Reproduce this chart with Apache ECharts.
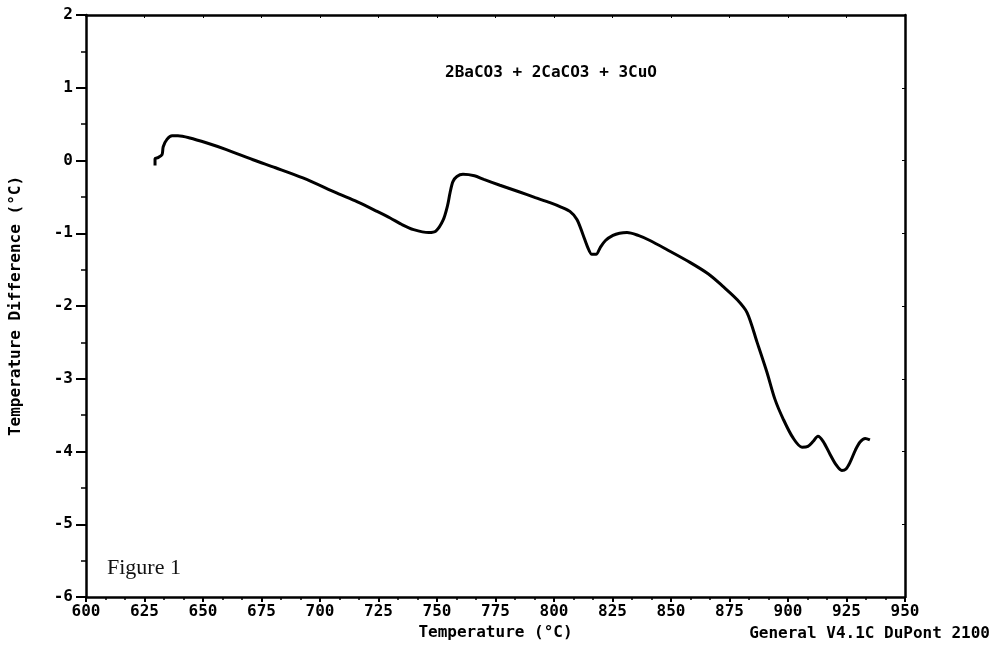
<!DOCTYPE html>
<html><head><meta charset="utf-8">
<script src="https://cdn.jsdelivr.net/npm/echarts@6/dist/echarts.min.js"></script>
<style>html,body{margin:0;padding:0;background:#fff}#c{width:994px;height:646px}</style>
</head><body><div id="c"></div>
<script>
const xTicks = [600, 625, 650, 675, 700, 725, 750, 775, 800, 825, 850, 875, 900, 925, 950];
const yTicks = [-6, -5, -4, -3, -2, -1, 0, 1, 2];
const temperature = [629.5, 629.5, 630.8, 632.5, 633, 634.6, 636.8, 639.3, 644.4, 651.7, 660, 671.4, 681, 692.7, 707.3, 716, 724.4, 730, 735, 740, 746.5, 749.5, 752.6, 754.5, 755.6, 756.8, 758.5, 761.1, 766, 770, 776.9, 785, 792, 798.3, 803, 806.8, 809.8, 812.4, 814.5, 816.2, 818, 819.7, 822, 825.2, 828, 831.2, 836, 841, 848, 858.1, 866, 872.2, 878.2, 882.5, 886.8, 891, 894.4, 897.9, 902.1, 906, 908.5, 910.8, 912.8, 915, 918, 920.5, 923, 924.8, 926.5, 928.8, 930.8, 933, 935];
const tempDiff = [-0.07, 0.025, 0.04, 0.08, 0.19, 0.29, 0.34, 0.34, 0.31, 0.24, 0.15, 0.01, -0.1, -0.24, -0.45, -0.57, -0.70, -0.79, -0.88, -0.95, -0.99, -0.97, -0.82, -0.62, -0.44, -0.29, -0.22, -0.19, -0.21, -0.26, -0.34, -0.43, -0.51, -0.58, -0.64, -0.70, -0.81, -1.02, -1.2, -1.29, -1.29, -1.2, -1.1, -1.03, -1.0, -0.99, -1.03, -1.1, -1.22, -1.40, -1.56, -1.73, -1.91, -2.09, -2.50, -2.91, -3.28, -3.55, -3.81, -3.94, -3.93, -3.86, -3.79, -3.86, -4.04, -4.18, -4.26, -4.24, -4.15, -3.98, -3.87, -3.82, -3.84];
const titleText = '2BaCO3 + 2CaCO3 + 3CuO';
const xName = 'Temperature (\u00b0C)';
const yName = 'Temperature Difference (\u00b0C)';
const footer = 'General V4.1C DuPont 2100';
const figLabel = 'Figure 1';

const chart = echarts.init(document.getElementById('c'));
const data = temperature.map((t, i) => [t, tempDiff[i]]);
const mono = 'DejaVu Sans Mono';
const fs = 16;
const axisStyle = {color: '#000', width: 2.5};
chart.setOption({
  backgroundColor: '#fff',
  animation: false,
  grid: {left: 86, top: 15, right: 89, bottom: 48},
  title: {
    text: titleText, left: 440, top: 60,
    textStyle: {fontFamily: mono, fontWeight: 'bold', fontSize: fs, color: '#000'}
  },
  graphic: [
    {type: 'text', left: 107, top: 557, style: {text: figLabel, font: '22px "Liberation Serif"', fill: '#111'}},
    {type: 'text', right: 4, top: 626, style: {text: footer, font: 'bold 16px "DejaVu Sans Mono"', fill: '#000'}}
  ],
  xAxis: [{
    type: 'value', min: 600, max: 950, interval: 25,
    name: xName, nameLocation: 'middle', nameGap: 28,
    nameTextStyle: {fontFamily: mono, fontWeight: 'bold', fontSize: fs, color: '#000'},
    axisLine: {onZero: false, lineStyle: axisStyle},
    axisTick: {show: true, length: 5, lineStyle: {color: '#000', width: 2}},
    minorTick: {show: true, splitNumber: 3, length: 3, lineStyle: {color: '#000', width: 1.5}},
    axisLabel: {fontFamily: mono, fontWeight: 'bold', fontSize: fs, color: '#000', margin: 7,
      formatter: v => xTicks.includes(v) ? String(v) : ''},
    splitLine: {show: false}
  }, {
    type: 'value', min: 600, max: 950, interval: 25, position: 'top',
    axisLine: {onZero: false, lineStyle: axisStyle},
    axisTick: {show: true, inside: true, length: 3, lineStyle: {color: '#000', width: 1}},
    axisLabel: {show: false}, splitLine: {show: false}
  }],
  yAxis: [{
    type: 'value', min: -6, max: 2, interval: 1,
    name: yName, nameLocation: 'middle', nameGap: 62, nameRotate: 90,
    nameTextStyle: {fontFamily: mono, fontWeight: 'bold', fontSize: fs, color: '#000'},
    axisLine: {onZero: false, lineStyle: axisStyle},
    axisTick: {show: true, length: 10, lineStyle: {color: '#000', width: 2}},
    minorTick: {show: true, splitNumber: 2, length: 5, lineStyle: {color: '#000', width: 1.5}},
    axisLabel: {fontFamily: mono, fontWeight: 'bold', fontSize: fs, color: '#000', margin: 13,
      formatter: v => yTicks.includes(v) ? String(v) : ''},
    splitLine: {show: false}
  }, {
    type: 'value', min: -6, max: 2, interval: 1, position: 'right',
    axisLine: {onZero: false, lineStyle: axisStyle},
    axisTick: {show: true, inside: true, length: 3, lineStyle: {color: '#000', width: 1}},
    axisLabel: {show: false}, splitLine: {show: false}
  }],
  series: [{
    type: 'line', data: data, xAxisIndex: 0, yAxisIndex: 0,
    smooth: 0.3, showSymbol: false,
    lineStyle: {color: '#000', width: 3}
  }]
});
</script></body></html>
